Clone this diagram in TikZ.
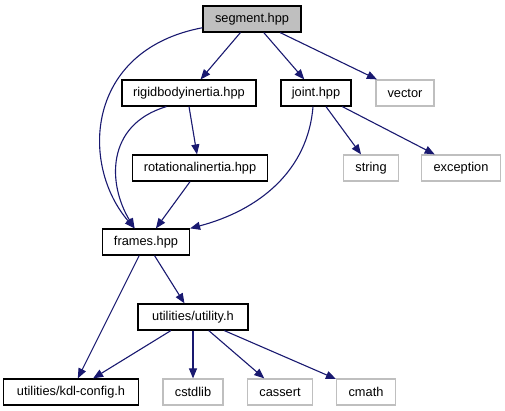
\documentclass[tikz,border=0pt]{standalone}
\usepackage{fontspec}
\setmainfont{Liberation Sans}
\usetikzlibrary{arrows.meta}
\definecolor{edgeblue}{RGB}{25,25,112}
\definecolor{boxgray}{RGB}{191,191,191}
\definecolor{lightborder}{RGB}{191,191,191}
\tikzset{
  filebox/.style={draw=black, line width=1.2pt, minimum height=26pt, inner xsep=2pt, inner ysep=0pt,
    font=\fontsize{12.8}{15}\selectfont, fill=white},
  extbox/.style={draw=lightborder, line width=1.2pt, minimum height=26pt, inner xsep=2pt, inner ysep=0pt,
    font=\fontsize{12.8}{15}\selectfont, fill=white},
  mainbox/.style={filebox, fill=boxgray},
  dep/.style={draw=edgeblue, line width=1.1pt, -{Triangle[length=10pt,width=8pt]}},
}
\begin{document}
\begin{tikzpicture}[x=1pt,y=-1pt]
\useasboundingbox (0,0) rectangle (505,411);
\node[mainbox, minimum width=98pt] (seg) at (252,19) {segment.hpp};
\node[filebox, minimum width=134pt] (rbi) at (189,93) {rigidbodyinertia.hpp};
\node[filebox, minimum width=70pt] (joint) at (316,93) {joint.hpp};
\node[extbox, minimum width=58pt] (vector) at (405,93) {vector};
\node[filebox, minimum width=135pt] (rot) at (200,168) {rotationalinertia.hpp};
\node[extbox, minimum width=55pt] (string) at (371,168) {string};
\node[extbox, minimum width=79pt] (exc) at (461,168) {exception};
\node[filebox, minimum width=87pt] (frames) at (146,242) {frames.hpp};
\node[filebox, minimum width=110pt] (util) at (193,317) {utilities/utility.h};
\node[filebox, minimum width=135pt] (kdl) at (71,392) {utilities/kdl-config.h};
\node[extbox, minimum width=60pt] (cstdlib) at (193,392) {cstdlib};
\node[extbox, minimum width=65pt] (cassert) at (280,392) {cassert};
\node[extbox, minimum width=59pt] (cmath) at (366,392) {cmath};

\draw[dep] (seg) -- (rbi);
\draw[dep] (seg) -- (joint);
\draw[dep] (seg) -- (vector);
\draw[dep] (seg.190) .. controls (85,50) and (80,165) .. (frames.130);
\draw[dep] (rbi.211) .. controls (105,125) and (108,185) .. (frames.130);
\draw[dep] (rbi.south) -- ([xshift=-3pt]rot.north);
\draw[dep] (rot) -- (frames);
\draw[dep] ([xshift=-3pt]joint.south) .. controls (308,170) and (260,210) .. (frames.north east);
\draw[dep] (joint) -- (string);
\draw[dep] (joint) -- (exc);
\draw[dep] (frames) -- (kdl);
\draw[dep] (frames) -- (util);
\draw[dep] (util) -- (kdl);
\draw[dep] (util) -- (cstdlib);
\draw[dep] (util) -- (cassert);
\draw[dep] (util) -- (cmath);
\end{tikzpicture}
\end{document}
